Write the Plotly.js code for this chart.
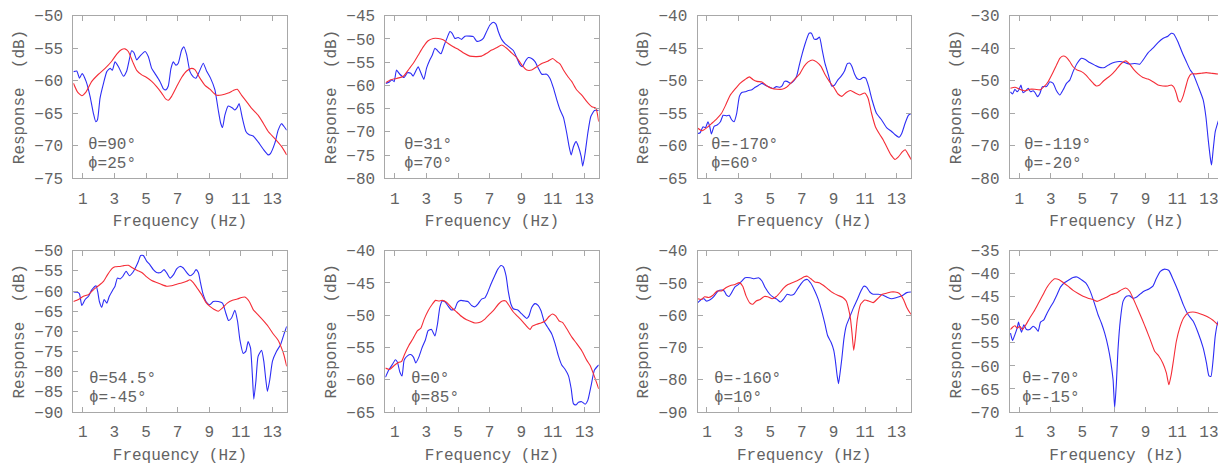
<!DOCTYPE html>
<html>
<head>
<meta charset="utf-8">
<script src="https://cdn.plot.ly/plotly-3.0.1.min.js"></script>
<style>
html,body{margin:0;padding:0;overflow:hidden;background:#fff;}
#chart{width:1226px;height:466px;}
</style>
</head>
<body>
<div id="chart"></div>
<script>
// ---------- DATA ----------
const tickFreqs = [1, 3, 5, 7, 9, 11, 13];
const thetaLabels = ['θ=90°', 'θ=31°', 'θ=-170°', 'θ=-119°', 'θ=54.5°', 'θ=0°', 'θ=-160°', 'θ=-70°'];
const phiLabels = ['ϕ=25°', 'ϕ=70°', 'ϕ=60°', 'ϕ=-20°', 'ϕ=-45°', 'ϕ=85°', 'ϕ=10°', 'ϕ=-15°'];

// Panel 1  (θ=90°, ϕ=25°)
const freqBlue1 = [0.41,0.62,0.79,0.96,1.21,1.46,1.67,1.82,1.93,2.09,2.31,2.52,2.73,2.87,3.04,3.25,3.57,3.78,4.09,4.24,4.41,4.62,4.94,5.15,5.36,5.57,5.88,6.09,6.26,6.41,6.58,6.73,6.89,7.04,7.25,7.40,7.57,7.78,7.99,8.16,8.37,8.62,8.83,9.08,9.36,9.57,9.72,9.84,9.99,10.2,10.47,10.62,10.77,10.89,11.1,11.32,11.53,11.78,12.09,12.41,12.73,12.87,13.15,13.36,13.57,13.72,13.9];
const respBlue1 = [-58.6,-58.5,-59.6,-58.9,-60.1,-62.4,-65.0,-66.3,-66.0,-62.7,-60.4,-58.6,-58.1,-58.4,-57.1,-57.8,-59.3,-58.5,-55.4,-55.7,-56.8,-56.2,-55.5,-56.3,-58.1,-58.9,-60.1,-61.2,-61.4,-60.8,-58.1,-57.1,-57.6,-57.3,-55.3,-54.8,-56.0,-58.6,-59.4,-59.6,-58.6,-57.3,-58.5,-59.6,-61.4,-64.5,-66.5,-67.2,-65.3,-63.9,-64.2,-64.5,-64.1,-63.5,-65.8,-67.8,-68.3,-68.5,-69.4,-70.5,-71.4,-71.2,-69.6,-67.6,-66.6,-67.0,-67.6];
const freqRed1 = [0.41,0.66,0.94,1.21,1.57,1.99,2.41,2.83,3.15,3.46,3.67,3.88,4.16,4.41,4.73,5.04,5.36,5.67,5.99,6.24,6.41,6.62,6.94,7.25,7.57,7.88,8.09,8.41,8.73,9.04,9.42,9.78,10.2,10.52,10.77,11.04,11.36,11.67,12.09,12.41,12.73,13.15,13.57,13.9];
const respRed1 = [-60.4,-61.7,-62.3,-61.7,-60.1,-59.0,-58.1,-57.0,-55.9,-55.2,-55.1,-55.5,-57.1,-58.4,-59.1,-59.5,-60.1,-60.9,-61.9,-62.8,-63.0,-62.4,-60.9,-59.5,-58.5,-58.1,-58.3,-59.6,-60.7,-61.3,-62.2,-62.2,-61.9,-61.5,-61.3,-62.2,-63.2,-64.2,-65.3,-66.5,-67.8,-68.9,-70.1,-71.4];

// Panel 2  (θ=31°, ϕ=70°)
const freqBlue2 = [0.43,0.68,0.83,0.96,1.11,1.32,1.59,1.80,2.01,2.16,2.33,2.48,2.65,2.84,3.01,3.22,3.37,3.54,3.70,3.92,4.13,4.34,4.49,4.63,4.80,5.01,5.23,5.44,5.75,5.97,6.18,6.39,6.60,6.81,7.02,7.23,7.40,7.55,7.76,7.97,8.23,8.50,8.71,8.92,9.07,9.24,9.45,9.66,9.87,10.08,10.30,10.61,10.82,11.04,11.25,11.46,11.67,11.88,12.03,12.16,12.30,12.47,12.62,12.79,12.89,13.04,13.21,13.40,13.63,13.9];
const respBlue2 = [-59.6,-59.2,-58.8,-59.2,-56.7,-57.6,-58.3,-57.3,-57.4,-58.0,-56.9,-56.0,-57.3,-58.7,-56.3,-54.5,-53.5,-52.0,-52.5,-53.2,-51.3,-49.5,-48.4,-48.8,-49.9,-49.7,-50.1,-49.4,-49.4,-49.5,-50.5,-50.4,-49.9,-48.4,-47.0,-46.4,-46.8,-48.4,-50.1,-51.0,-51.7,-52.5,-54.0,-55.6,-56.0,-54.9,-54.0,-54.2,-54.9,-56.3,-57.6,-57.6,-58.5,-60.6,-63.1,-65.3,-66.9,-70.3,-73.2,-75.0,-73.2,-72.1,-73.2,-75.3,-77.4,-74.6,-70.3,-66.7,-65.4,-65.4];
const freqRed2 = [0.43,0.75,1.11,1.53,1.85,2.16,2.48,2.80,3.11,3.43,3.75,4.06,4.38,4.70,5.01,5.39,5.75,6.18,6.49,6.81,7.13,7.44,7.76,8.08,8.39,8.71,9.03,9.35,9.66,9.98,10.30,10.68,10.99,11.25,11.46,11.67,11.99,12.20,12.51,12.83,13.15,13.47,13.72,13.9];
const respRed2 = [-59.4,-58.8,-58.5,-58.1,-56.7,-55.3,-53.5,-51.7,-50.4,-49.9,-49.9,-50.2,-51.0,-51.7,-52.2,-53.1,-53.7,-53.8,-53.7,-53.1,-52.4,-51.9,-51.3,-52.0,-53.0,-54.0,-55.6,-56.7,-56.7,-56.0,-55.3,-54.8,-54.2,-54.9,-55.4,-56.7,-58.3,-59.2,-61.0,-62.1,-63.5,-64.6,-64.9,-67.8];

// Panel 3  (θ=-170°, ϕ=60°)
const freqBlue3 = [0.42,0.57,0.74,0.91,1.06,1.17,1.28,1.45,1.64,1.85,2.02,2.24,2.41,2.56,2.71,2.88,3.05,3.20,3.41,3.62,3.84,4.05,4.26,4.48,4.69,4.97,5.18,5.39,5.61,5.75,5.90,6.07,6.29,6.50,6.67,6.84,7.03,7.25,7.46,7.61,7.78,7.95,8.12,8.29,8.46,8.68,8.89,9.06,9.27,9.49,9.70,9.87,10.04,10.17,10.34,10.51,10.68,10.87,11.04,11.23,11.45,11.72,12.04,12.36,12.68,12.90,13.15,13.32,13.54,13.75,13.96];
const respBlue3 = [-58.1,-58.0,-57.1,-57.2,-56.3,-57.0,-58.2,-57.0,-56.8,-56.3,-55.3,-55.4,-55.3,-56.0,-56.3,-55.0,-52.4,-51.8,-51.7,-51.5,-51.4,-51.0,-50.7,-50.4,-50.7,-51.0,-51.2,-50.9,-51.0,-50.8,-50.1,-50.1,-50.4,-50.0,-49.3,-47.6,-45.8,-44.0,-42.7,-42.7,-43.6,-43.6,-43.3,-45.3,-47.3,-49.1,-50.8,-50.7,-49.9,-49.3,-48.5,-47.4,-47.3,-47.8,-49.0,-49.7,-49.8,-49.5,-49.6,-50.9,-53.0,-55.0,-56.0,-57.2,-57.8,-58.3,-58.7,-58.1,-56.5,-55.3,-55.0];
const freqRed3 = [0.42,0.70,1.00,1.28,1.60,1.92,2.19,2.45,2.77,3.09,3.41,3.69,3.90,4.16,4.48,4.80,5.12,5.43,5.75,6.03,6.29,6.61,6.88,7.14,7.40,7.67,7.93,8.21,8.46,8.74,9.02,9.27,9.53,9.81,10.08,10.38,10.66,10.98,11.19,11.41,11.66,11.94,12.15,12.36,12.64,12.90,13.11,13.37,13.54,13.75,13.96];
const respRed3 = [-57.3,-57.7,-57.2,-56.6,-55.9,-55.0,-53.7,-52.3,-51.3,-50.4,-49.8,-49.4,-49.8,-50.1,-50.2,-50.8,-51.2,-51.3,-51.3,-51.0,-50.4,-49.6,-48.9,-47.8,-47.1,-46.8,-47.1,-47.8,-49.0,-50.1,-51.0,-52.0,-52.4,-51.8,-51.5,-51.9,-52.2,-51.9,-52.7,-55.0,-57.1,-58.3,-59.1,-60.1,-61.4,-62.1,-61.7,-60.9,-60.6,-61.4,-62.3];

// Panel 4  (θ=-119°, ϕ=-20°)
const freqBlue4 = [0.45,0.58,0.73,0.87,1.00,1.11,1.25,1.42,1.57,1.72,1.88,2.01,2.16,2.31,2.47,2.73,2.94,3.15,3.36,3.57,3.78,3.99,4.20,4.41,4.66,4.94,5.15,5.46,5.78,6.09,6.41,6.73,7.04,7.36,7.67,7.99,8.31,8.62,8.87,9.15,9.46,9.78,10.09,10.41,10.62,10.77,11.04,11.32,11.57,11.82,12.01,12.33,12.64,12.81,12.96,13.11,13.17,13.27,13.40,13.55,13.9];
const respBlue4 = [-53.4,-54.1,-52.6,-53.4,-52.6,-51.3,-53.7,-53.1,-52.3,-53.4,-53.1,-53.7,-54.9,-53.9,-51.8,-51.8,-50.3,-50.8,-53.1,-54.4,-52.8,-50.8,-49.8,-47.2,-44.7,-43.1,-43.4,-44.4,-45.2,-45.9,-45.9,-44.9,-44.3,-44.1,-44.4,-44.9,-44.7,-44.9,-43.4,-41.4,-40.0,-38.3,-37.0,-36.3,-35.4,-35.6,-38.0,-41.4,-44.1,-46.7,-47.9,-51.8,-55.9,-61.0,-68.2,-74.4,-75.9,-71.3,-65.7,-63.1,-58.0];
const freqRed4 = [0.45,0.73,1.04,1.36,1.67,1.99,2.31,2.62,2.83,3.11,3.36,3.57,3.78,3.99,4.20,4.41,4.66,4.94,5.21,5.46,5.72,5.88,6.09,6.35,6.62,6.89,7.15,7.46,7.74,7.99,8.24,8.52,8.83,9.15,9.46,9.78,10.09,10.41,10.62,10.79,10.94,11.08,11.21,11.36,11.53,11.69,11.88,12.20,12.52,12.83,13.15,13.46,13.9];
const respRed4 = [-52.3,-52.0,-52.6,-53.1,-52.6,-52.6,-52.8,-51.6,-50.3,-47.7,-45.2,-43.1,-42.4,-42.8,-44.1,-45.7,-46.7,-47.2,-48.2,-49.6,-51.0,-51.6,-51.3,-50.0,-49.0,-47.9,-46.5,-44.7,-43.9,-44.9,-46.5,-47.9,-49.0,-49.5,-50.3,-51.3,-51.6,-51.6,-51.3,-52.0,-53.9,-56.2,-56.5,-54.9,-52.0,-49.3,-47.9,-47.9,-47.7,-47.5,-47.7,-47.9,-48.0];

// Panel 5  (θ=54.5°, ϕ=-45°)
const freqBlue5 = [0.41,0.66,0.79,0.94,1.15,1.36,1.57,1.84,1.95,2.05,2.20,2.35,2.52,2.68,2.89,3.04,3.19,3.36,3.53,3.74,3.95,4.16,4.37,4.52,4.66,4.83,5.04,5.25,5.46,5.67,5.93,6.14,6.31,6.52,6.73,6.94,7.15,7.36,7.57,7.78,7.99,8.16,8.31,8.45,8.62,8.83,9.04,9.25,9.57,9.84,10.05,10.22,10.41,10.62,10.79,10.94,11.15,11.32,11.46,11.61,11.72,11.82,11.95,12.09,12.31,12.45,12.58,12.68,12.83,13.00,13.25,13.51,13.72,13.9];
const respBlue5 = [-60.2,-60.3,-60.7,-63.6,-62.1,-61.3,-59.7,-58.7,-60.3,-62.6,-64.0,-62.1,-63.0,-61.3,-59.8,-58.8,-56.8,-57.0,-56.4,-55.1,-56.2,-55.4,-53.9,-52.6,-51.2,-51.2,-52.6,-53.5,-54.7,-55.4,-55.4,-54.7,-55.5,-56.8,-56.0,-54.5,-53.9,-54.3,-55.4,-56.2,-55.7,-54.7,-55.4,-58.0,-60.9,-62.8,-63.4,-62.6,-62.6,-63.0,-65.5,-67.3,-66.7,-64.8,-67.5,-72.1,-75.5,-74.9,-72.5,-74.1,-80.3,-86.8,-82.4,-76.2,-74.7,-77.4,-82.0,-84.9,-82.0,-77.4,-75.0,-73.3,-70.8,-68.8];
const freqRed5 = [0.41,0.73,1.04,1.36,1.67,1.99,2.31,2.56,2.83,3.04,3.36,3.61,3.88,4.16,4.45,4.73,5.04,5.36,5.67,5.99,6.31,6.62,6.94,7.25,7.57,7.78,7.99,8.24,8.52,8.79,9.04,9.29,9.57,9.84,10.14,10.47,10.77,11.04,11.25,11.53,11.78,12.09,12.41,12.73,13.04,13.36,13.57,13.72,13.9];
const respRed5 = [-62.6,-62.1,-61.3,-60.9,-59.7,-58.7,-57.6,-56.0,-54.5,-54.0,-53.9,-53.7,-53.6,-54.3,-54.9,-55.4,-56.5,-57.4,-57.9,-58.4,-58.8,-58.7,-58.3,-58.0,-57.6,-57.2,-57.9,-59.3,-60.9,-62.8,-63.8,-64.5,-65.0,-64.2,-63.0,-62.3,-62.0,-61.6,-61.5,-62.6,-64.6,-65.9,-67.3,-68.8,-70.6,-72.2,-74.1,-75.8,-78.7];

// Panel 6  (θ=0°, ϕ=85°)
const freqBlue6 = [0.41,0.62,0.83,1.04,1.17,1.32,1.46,1.59,1.80,2.01,2.18,2.33,2.52,2.73,2.94,3.11,3.32,3.54,3.70,3.85,4.00,4.17,4.38,4.59,4.80,4.97,5.18,5.44,5.65,5.86,6.07,6.28,6.49,6.70,6.87,7.08,7.30,7.51,7.72,7.87,8.04,8.18,8.35,8.50,8.78,8.99,9.20,9.35,9.49,9.66,9.87,10.08,10.25,10.47,10.68,10.93,11.14,11.35,11.56,11.78,11.99,12.16,12.30,12.45,12.62,12.83,13.04,13.21,13.42,13.63,13.9];
const respBlue6 = [-59.6,-58.5,-57.7,-56.9,-57.3,-58.8,-59.4,-57.0,-56.3,-56.1,-56.5,-57.4,-56.5,-55.0,-53.8,-52.4,-52.2,-53.2,-51.4,-48.8,-47.8,-47.9,-48.6,-49.2,-49.0,-48.0,-47.7,-47.8,-47.9,-48.5,-48.7,-48.2,-47.5,-47.3,-46.5,-45.2,-44.0,-42.9,-42.3,-42.5,-43.9,-46.3,-48.3,-49.0,-49.2,-49.7,-50.2,-50.5,-50.1,-48.8,-48.2,-48.5,-49.3,-51.1,-51.9,-52.9,-54.4,-56.3,-57.7,-58.4,-59.4,-61.4,-63.7,-63.9,-63.5,-63.4,-63.8,-63.2,-60.9,-58.5,-57.7];
const freqRed6 = [0.41,0.68,0.96,1.25,1.42,1.63,1.89,2.16,2.44,2.65,2.86,3.11,3.37,3.58,3.79,4.00,4.27,4.59,4.91,5.23,5.54,5.75,6.07,6.39,6.70,7.02,7.30,7.55,7.80,8.02,8.23,8.50,8.82,9.13,9.41,9.56,9.70,9.98,10.25,10.51,10.76,10.97,11.18,11.40,11.61,11.88,12.20,12.51,12.83,13.15,13.36,13.57,13.9];
const respRed6 = [-58.2,-58.4,-57.8,-57.3,-57.2,-56.0,-54.7,-53.6,-52.4,-52.0,-50.6,-49.3,-48.3,-47.7,-47.8,-47.7,-48.0,-48.8,-49.5,-50.2,-50.7,-50.9,-51.2,-51.1,-50.6,-49.8,-49.1,-48.3,-47.8,-47.8,-48.5,-49.5,-50.3,-51.1,-51.9,-52.2,-51.7,-51.4,-51.2,-50.9,-50.2,-49.8,-50.1,-50.9,-51.1,-52.1,-53.4,-54.4,-55.5,-57.0,-57.8,-59.1,-61.4];

// Panel 7  (θ=-160°, ϕ=10°)
const freqBlue7 = [0.42,0.64,0.81,0.96,1.17,1.43,1.70,1.92,2.09,2.24,2.39,2.56,2.77,2.98,3.20,3.41,3.73,3.99,4.26,4.48,4.69,4.97,5.22,5.43,5.65,5.86,6.07,6.29,6.50,6.71,6.97,7.18,7.35,7.57,7.82,8.04,8.25,8.46,8.63,8.85,9.02,9.12,9.23,9.32,9.40,9.53,9.66,9.81,10.02,10.23,10.51,10.77,10.92,11.09,11.30,11.51,11.83,12.15,12.43,12.68,13.00,13.32,13.64,13.96];
const respBlue7 = [-56.1,-55.1,-54.9,-55.6,-55.3,-54.2,-52.5,-52.2,-52.5,-53.8,-54.2,-53.0,-51.2,-50.5,-49.4,-48.4,-48.4,-48.7,-48.4,-49.4,-51.5,-53.5,-54.5,-55.1,-55.9,-54.9,-53.5,-53.8,-53.5,-52.0,-50.1,-49.1,-48.9,-50.1,-52.5,-55.1,-58.6,-62.7,-66.3,-68.4,-70.9,-74.0,-78.6,-81.2,-78.6,-73.5,-67.4,-63.3,-60.7,-58.1,-55.1,-52.2,-51.0,-51.3,-52.8,-53.5,-53.5,-53.8,-54.5,-54.9,-54.5,-54.0,-53.0,-52.8];
const freqRed7 = [0.42,0.64,0.85,1.11,1.38,1.64,1.92,2.19,2.49,2.77,3.05,3.26,3.47,3.73,3.90,4.11,4.37,4.62,4.84,5.12,5.39,5.65,5.86,6.12,6.39,6.67,6.93,7.14,7.35,7.57,7.82,8.10,8.38,8.63,8.95,9.27,9.59,9.81,9.96,10.08,10.17,10.28,10.38,10.51,10.72,10.98,11.23,11.51,11.79,12.09,12.36,12.64,12.90,13.15,13.43,13.64,13.86,13.96];
const respRed7 = [-54.9,-55.1,-54.3,-54.5,-53.8,-52.5,-52.5,-51.5,-50.8,-50.5,-49.9,-51.0,-54.0,-56.3,-56.6,-55.6,-55.1,-54.2,-54.3,-54.9,-54.2,-52.8,-51.5,-50.5,-49.9,-49.4,-48.7,-48.1,-47.9,-48.7,-49.7,-49.9,-50.8,-51.8,-53.0,-53.8,-54.5,-55.6,-58.1,-61.2,-65.3,-70.9,-67.4,-61.2,-56.6,-55.3,-55.6,-56.1,-54.9,-53.5,-53.2,-52.8,-52.8,-53.2,-55.1,-57.6,-59.4,-60.0];

// Panel 8  (θ=-70°, ϕ=-15°)
const freqBlue8 = [0.45,0.58,0.73,0.87,0.96,1.04,1.15,1.29,1.46,1.67,1.88,2.05,2.20,2.35,2.56,2.77,2.98,3.19,3.40,3.61,3.88,4.16,4.41,4.66,4.94,5.21,5.46,5.72,5.99,6.20,6.41,6.62,6.79,6.94,7.04,7.15,7.25,7.40,7.57,7.78,7.99,8.20,8.41,8.62,8.89,9.21,9.46,9.67,9.93,10.20,10.47,10.75,11.06,11.38,11.69,12.01,12.33,12.64,12.85,13.00,13.13,13.27,13.40,13.55,13.9];
const respBlue8 = [-52.9,-54.5,-53.2,-51.8,-50.5,-51.6,-52.7,-51.1,-52.1,-52.1,-51.4,-51.8,-52.5,-50.5,-50.0,-48.5,-47.2,-46.0,-44.5,-42.9,-41.9,-41.3,-40.8,-40.7,-41.3,-42.0,-43.5,-46.0,-48.9,-50.7,-52.9,-55.8,-59.0,-63.0,-69.1,-63.7,-56.5,-50.0,-46.0,-44.9,-44.8,-45.3,-45.1,-44.5,-43.8,-43.3,-42.7,-41.1,-39.5,-39.0,-39.3,-41.3,-43.8,-46.7,-48.9,-50.3,-52.9,-56.1,-59.4,-62.1,-62.3,-58.6,-53.6,-50.7,-48.0];
const freqRed8 = [0.45,0.58,0.73,0.87,1.04,1.21,1.42,1.67,1.93,2.20,2.47,2.73,2.98,3.25,3.53,3.78,4.09,4.41,4.73,5.04,5.36,5.67,5.93,6.20,6.52,6.83,7.15,7.46,7.74,7.99,8.24,8.52,8.79,9.04,9.29,9.57,9.84,10.09,10.31,10.47,10.62,10.77,10.94,11.15,11.40,11.67,11.99,12.31,12.62,12.94,13.26,13.57,13.9];
const respRed8 = [-52.1,-51.6,-51.3,-51.8,-51.4,-52.1,-51.1,-49.6,-48.2,-46.5,-44.8,-43.1,-41.9,-41.1,-41.3,-41.9,-42.7,-43.6,-44.3,-44.9,-45.3,-45.6,-46.0,-45.6,-45.1,-44.5,-44.2,-43.5,-43.1,-43.8,-45.6,-47.8,-50.0,-52.1,-54.3,-56.8,-57.9,-59.4,-61.5,-64.1,-61.9,-58.6,-54.7,-51.8,-49.6,-48.5,-48.3,-48.5,-48.9,-49.4,-50.1,-51.1,-52.0];

const blueFreqs = [freqBlue1, freqBlue2, freqBlue3, freqBlue4, freqBlue5, freqBlue6, freqBlue7, freqBlue8];
const blueResps = [respBlue1, respBlue2, respBlue3, respBlue4, respBlue5, respBlue6, respBlue7, respBlue8];
const redFreqs = [freqRed1, freqRed2, freqRed3, freqRed4, freqRed5, freqRed6, freqRed7, freqRed8];
const redResps = [respRed1, respRed2, respRed3, respRed4, respRed5, respRed6, respRed7, respRed8];

// ---------- AXIS SETTINGS ----------
const yRanges = [[-75,-50],[-80,-45],[-65,-40],[-80,-30],[-90,-50],[-65,-40],[-90,-40],[-70,-35]];
const yDticks = [5,5,5,10,5,5,10,5];
const xRange = [0.4, 13.9];

// ---------- LAYOUT GEOMETRY (pixels) ----------
const W = 1226, H = 466;
const colLeft = [73.3, 385.3, 697.5, 1009.7];
const plotW = 213.4;
const rowTop = [15.7, 250.7];
const rowBot = [178.3, 412.0];
const labelX = [0.06, 0.078, 0.056, 0.059, 0.066, 0.11, 0.067, 0.047];

const FONT = 'Liberation Mono, Courier New, monospace';
const TXT = '#636363';
const LINE = '#a8a8a8';
const BLUE = 'rgb(45,45,245)';
const RED = 'rgb(245,45,55)';

const traces = [];
const layout = {
  width: W, height: H,
  margin: {l: 0, r: 0, t: 0, b: 0},
  paper_bgcolor: '#fff', plot_bgcolor: '#fff',
  showlegend: false,
  font: {family: FONT, size: 16, color: TXT},
  annotations: []
};

for (let i = 0; i < 8; i++) {
  const r = Math.floor(i / 4), c = i % 4;
  const k = i + 1;
  const xa = 'x' + k, ya = 'y' + k;
  traces.push({
    x: blueFreqs[i], y: blueResps[i], xaxis: xa, yaxis: ya,
    type: 'scatter', mode: 'lines',
    line: {color: BLUE, width: 1.1, shape: 'spline', smoothing: 0.5},
    hoverinfo: 'skip'
  });
  traces.push({
    x: redFreqs[i], y: redResps[i], xaxis: xa, yaxis: ya,
    type: 'scatter', mode: 'lines',
    line: {color: RED, width: 1.1, shape: 'spline', smoothing: 0.5},
    hoverinfo: 'skip'
  });
  const axCommon = {
    ticks: 'inside', ticklen: 5, tickwidth: 1, tickcolor: LINE,
    showline: true, linecolor: LINE, linewidth: 1, mirror: 'ticks',
    showgrid: false, zeroline: false, fixedrange: true,
    tickfont: {family: FONT, size: 16, color: TXT}
  };
  layout['xaxis' + (k === 1 ? '' : k)] = Object.assign({}, axCommon, {
    domain: [colLeft[c] / W, (colLeft[c] + plotW) / W],
    anchor: ya, range: xRange,
    tickmode: 'array', tickvals: tickFreqs, ticktext: tickFreqs.map(String),
    ticklabelstandoff: 5,
    title: {text: 'Frequency (Hz)', font: {family: FONT, size: 16, color: TXT}, standoff: 7}
  });
  layout['yaxis' + (k === 1 ? '' : k)] = Object.assign({}, axCommon, {
    domain: [1 - rowBot[r] / H, 1 - rowTop[r] / H],
    anchor: xa, range: yRanges[i],
    tickmode: 'linear', tick0: yRanges[i][0], dtick: yDticks[i],
    ticklabelstandoff: 6,
    title: {text: 'Response \u00a0(dB)', font: {family: FONT, size: 16, color: TXT}, standoff: 5}
  });
  layout.annotations.push({
    xref: xa + ' domain', yref: ya + ' domain', x: labelX[i], y: 0.205,
    xanchor: 'left', yanchor: 'middle', showarrow: false,
    text: thetaLabels[i], font: {family: FONT, size: 16, color: TXT}
  });
  layout.annotations.push({
    xref: xa + ' domain', yref: ya + ' domain', x: labelX[i], y: 0.088,
    xanchor: 'left', yanchor: 'middle', showarrow: false,
    text: phiLabels[i], font: {family: FONT, size: 16, color: TXT}
  });
}

Plotly.newPlot('chart', traces, layout, {staticPlot: true, displayModeBar: false});
</script>
</body>
</html>
